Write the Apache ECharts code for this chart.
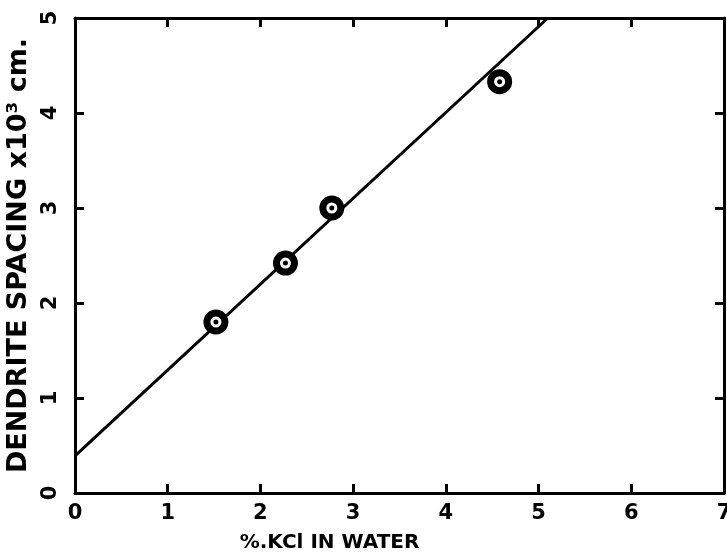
<!DOCTYPE html>
<html><head><meta charset="utf-8">
<script src="https://cdn.jsdelivr.net/npm/echarts@6/dist/echarts.min.js"></script>
<style>html,body{margin:0;padding:0;background:#fff}#c{width:727px;height:556px}</style>
</head><body><div id="c"></div>
<script>
const kclPercent = [1.52, 2.27, 2.77, 4.58];
const dendriteSpacing = [1.80, 2.42, 3.00, 4.33];
const fitLineX = [0, 5.10];
const fitLineY = [0.39, 5.0];
const xTicks = [0,1,2,3,4,5,6,7];
const yTicks = [0,1,2,3,4,5];
const xTitle = '%.KCl IN WATER';
const yTitle = 'DENDRITE SPACING x10³ cm.';

const pts = kclPercent.map((x,i)=>[x, dendriteSpacing[i]]);
const fit = fitLineX.map((x,i)=>[x, fitLineY[i]]);
const font = '"DejaVu Sans", sans-serif';
const chart = echarts.init(document.getElementById('c'), null, {renderer:'canvas'});
const axisLine = {show:true, onZero:false, lineStyle:{color:'#000', width:3}};
const tick = {show:true, inside:true, length:9, lineStyle:{color:'#000', width:3}};
chart.setOption({
  animation:false,
  backgroundColor:'#fff',
  grid:{left:75, right:3, top:18, bottom:63, containLabel:false, outerBoundsMode:'none'},
  xAxis:[{
    type:'value', min:0, max:7, interval:1,
    axisLine, axisTick:tick,
    splitLine:{show:false},
    axisLabel:{color:'#000', fontFamily:font, fontWeight:'bold', fontSize:21, margin:10,
      formatter:v=>xTicks.includes(v)?String(v):''},
    name:xTitle, nameLocation:'middle', nameGap:40,
    nameTextStyle:{color:'#000', fontFamily:font, fontWeight:'bold', fontSize:20, padding:[0,140,0,0]}
  },{
    type:'value', position:'top', min:0, max:7, interval:1,
    axisLine, axisTick:tick,
    axisLabel:{show:false}, splitLine:{show:false}
  }],
  yAxis:[{
    type:'value', min:0, max:5, interval:1,
    axisLine, axisTick:tick,
    splitLine:{show:false},
    axisLabel:{color:'#000', fontFamily:font, fontWeight:'bold', fontSize:21, rotate:90, margin:14,
      formatter:v=>yTicks.includes(v)?String(v):''},
    name:yTitle, nameLocation:'middle', nameGap:41, nameRotate:90,
    nameTextStyle:{color:'#000', fontFamily:font, fontWeight:'bold', fontSize:27}
  },{
    type:'value', position:'right', min:0, max:5, interval:1,
    axisLine, axisTick:tick,
    axisLabel:{show:false}, splitLine:{show:false}
  }],
  series:[
    {type:'line', data:fit, symbol:'none', lineStyle:{color:'#000', width:3}, z:2},
    {type:'scatter', data:pts, symbol:'circle', symbolSize:18,
      itemStyle:{color:'#fff', borderColor:'#000', borderWidth:7, opacity:1}, z:3},
    {type:'scatter', data:pts, symbol:'circle', symbolSize:5,
      itemStyle:{color:'#000', opacity:1}, z:4}
  ]
});
</script></body></html>
